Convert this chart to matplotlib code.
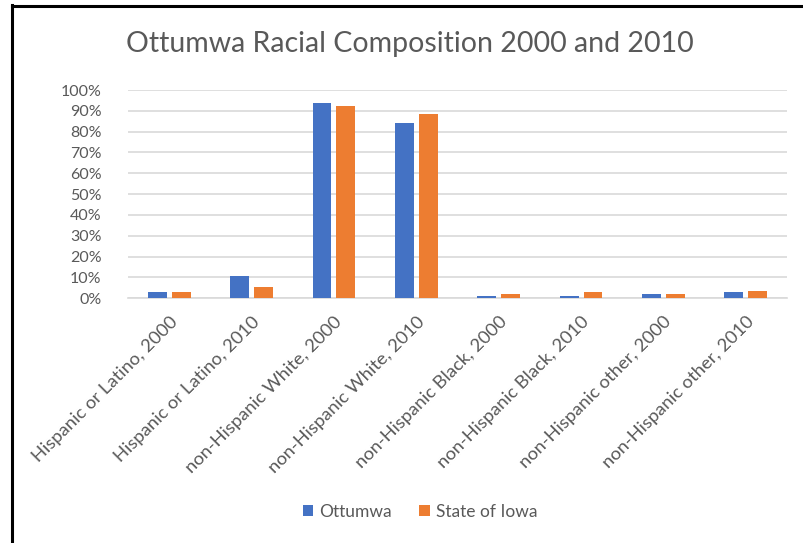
import matplotlib
matplotlib.use("Agg")
import matplotlib.pyplot as plt
import numpy as np
from matplotlib.lines import Line2D
from matplotlib.ticker import PercentFormatter

plt.rcParams['font.family'] = ['Lato', 'DejaVu Sans']

categories = [
    "Hispanic or Latino, 2000",
    "Hispanic or Latino, 2010",
    "non-Hispanic White, 2000",
    "non-Hispanic White, 2010",
    "non-Hispanic Black, 2000",
    "non-Hispanic Black, 2010",
    "non-Hispanic other, 2000",
    "non-Hispanic other, 2010",
]
ottumwa = [2.9, 10.7, 93.9, 84.3, 1.1, 1.1, 2.1, 2.9]
state_of_iowa = [2.8, 5.3, 92.3, 88.3, 1.9, 2.9, 2.0, 3.5]
series_names = ["Ottumwa", "State of Iowa"]
colors = ["#4472C4", "#ED7D31"]

text_color = "#595959"
grid_color = "#D9D9D9"

fig = plt.figure(figsize=(8.04, 5.43), dpi=100)
ax = fig.add_axes([128 / 804, (543 - 298.3) / 543, (787 - 128) / 804, (298.3 - 90) / 543])

x = np.arange(len(categories))
width = 0.23
offset = 0.145
ax.bar(x - offset, ottumwa, width, color=colors[0], label=series_names[0], zorder=3)
ax.bar(x + offset, state_of_iowa, width, color=colors[1], label=series_names[1], zorder=3)

ax.set_xlim(-0.5, len(categories) - 0.5)
ax.set_ylim(0, 100)
ax.set_yticks(np.arange(0, 101, 10))
ax.yaxis.set_major_formatter(PercentFormatter(decimals=0))
ax.grid(axis='y', color=grid_color, linewidth=1.2, zorder=0)
for side in ['top', 'right', 'left']:
    ax.spines[side].set_visible(False)
ax.spines['bottom'].set_color(grid_color)
ax.spines['bottom'].set_linewidth(1.2)
ax.tick_params(axis='both', length=0, colors=text_color)
ax.tick_params(axis='y', pad=19, labelsize=11.5)

ax.set_xticks(x)
ax.set_xticklabels(categories, rotation=45, ha='right', rotation_mode='anchor',
                   fontsize=13.2, color=text_color)
ax.tick_params(axis='x', pad=11)

fig.text(410 / 804, 1 - 44 / 543, "Ottumwa Racial Composition 2000 and 2010",
         ha='center', va='center', fontsize=20.5, color=text_color)

leg = fig.legend(loc='center', bbox_to_anchor=(420 / 804, 1 - 512 / 543), ncol=2,
                 frameon=False, fontsize=12.5, handlelength=0.6, handleheight=0.6,
                 handletextpad=0.35, columnspacing=1.6)
for t in leg.get_texts():
    t.set_color(text_color)

# outer frame: left and top edges
fig.add_artist(Line2D([12 / 804, 12 / 804], [0, 1 - 5 / 543], color='black', linewidth=2.2,
                      transform=fig.transFigure))
fig.add_artist(Line2D([12 / 804, 1], [1 - 6 / 543, 1 - 6 / 543], color='black', linewidth=2.2,
                      transform=fig.transFigure))

fig.savefig("out.png", dpi=100, facecolor='white')
